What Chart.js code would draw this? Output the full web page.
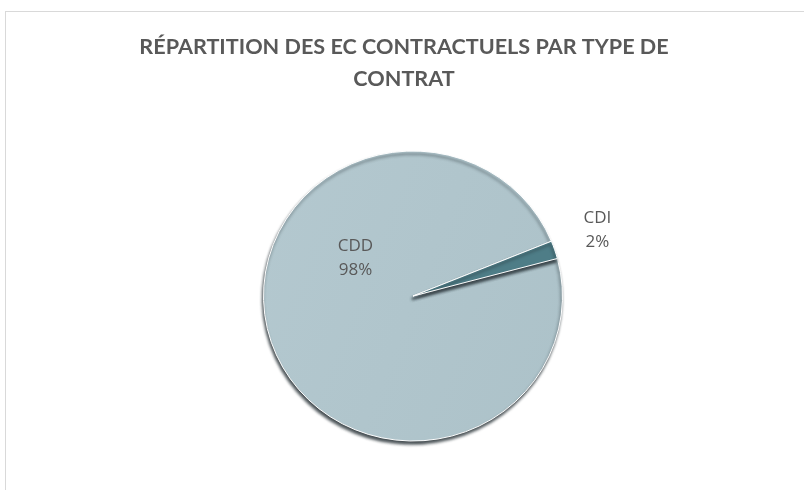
<!DOCTYPE html>
<html>
<head>
<meta charset="utf-8">
<script src="https://cdn.jsdelivr.net/npm/chart.js@4"></script>
<style>
  html, body { margin: 0; padding: 0; background: #fff; overflow: hidden; }
  #frame { position: absolute; left: 5px; top: 11px; width: 900px; height: 600px; border: 1px solid #d9d9d9; }
  #wrap { position: absolute; left: 0; top: 0; width: 804px; height: 490px; }
</style>
</head>
<body>
<div id="frame"></div>
<div id="wrap"><canvas id="pie-chart" width="804" height="490"></canvas></div>
<script>
// Données du graphique
const categories = ['CDD', 'CDI'];
const shares = [98, 2];
const titleLines = ['RÉPARTITION DES EC CONTRACTUELS PAR TYPE DE', 'CONTRAT'];

const textColor = '#595959';

// Légère inclinaison + ombre sous le camembert (effet Excel 3D)
const shadowPlugin = {
  id: 'pieShadow',
  beforeDatasetsDraw(chart) {
    const ctx = chart.ctx;
    const meta = chart.getDatasetMeta(0);
    const cy = meta.data.length ? meta.data[0].y : 0;
    ctx.save();
    ctx.translate(0, cy);
    ctx.scale(1, 0.97);
    ctx.translate(0, -cy);
    ctx.shadowColor = 'rgba(35, 45, 50, 0.85)';
    ctx.shadowBlur = 3;
    ctx.shadowOffsetX = -1;
    ctx.shadowOffsetY = 3;
  },
  afterDatasetsDraw(chart) {
    chart.ctx.restore();
  }
};

// Titre sur deux lignes, centré sur la page
const titlePlugin = {
  id: 'pageTitle',
  afterDraw(chart) {
    const ctx = chart.ctx;
    ctx.save();
    ctx.font = 'bold 21.6px Lato, "Open Sans", sans-serif';
    ctx.fillStyle = textColor;
    ctx.textAlign = 'center';
    ctx.textBaseline = 'middle';
    titleLines.forEach((line, i) => {
      ctx.fillText(line, chart.width / 2 + 2, 47 + i * 32);
    });
    ctx.restore();
  }
};

// Étiquettes "catégorie + pourcentage"
const labelPlugin = {
  id: 'sliceLabels',
  afterDatasetsDraw(chart) {
    const ctx = chart.ctx;
    const meta = chart.getDatasetMeta(0);
    const total = shares.reduce((a, b) => a + b, 0);
    ctx.save();
    ctx.font = '17px "Open Sans", sans-serif';
    ctx.fillStyle = textColor;
    ctx.textAlign = 'center';
    ctx.textBaseline = 'middle';
    meta.data.forEach((arc, i) => {
      const { x, y, outerRadius, startAngle, endAngle } = arc.getProps(['x', 'y', 'outerRadius', 'startAngle', 'endAngle'], true);
      let angle, dist;
      if (i === 0) {
        // étiquette placée dans le grand secteur, en haut à gauche
        angle = Math.PI + 0.58;
        dist = outerRadius * 0.46;
      } else {
        angle = (startAngle + endAngle) / 2 - 0.02;
        dist = outerRadius * 1.31;
      }
      const lx = x + Math.cos(angle) * dist;
      const ly = y + Math.sin(angle) * dist;
      const pct = Math.round(shares[i] / total * 100) + '%';
      ctx.fillText(categories[i], lx, ly - 12);
      ctx.fillText(pct, lx, ly + 12);
    });
    ctx.restore();
  }
};

function sliceColor(context) {
  if (context.dataIndex !== 0) return '#4e7d87';
  const area = context.chart.chartArea;
  if (!area) return '#b0c5cc';
  const g = context.chart.ctx.createLinearGradient(area.left, area.top, area.right, area.bottom);
  g.addColorStop(0, '#b8ccd3');
  g.addColorStop(1, '#a8bec5');
  return g;
}

new Chart(document.getElementById('pie-chart'), {
  type: 'pie',
  data: {
    labels: categories,
    datasets: [{
      data: shares,
      backgroundColor: sliceColor,
      borderColor: '#ffffff',
      borderWidth: 1
    }]
  },
  options: {
    responsive: false,
    animation: false,
    rotation: 75,
    layout: { padding: { left: 22, right: 0, top: 146, bottom: 44 } },
    plugins: {
      legend: { display: false },
      tooltip: { enabled: false },
      title: { display: false }
    }
  },
  plugins: [shadowPlugin, labelPlugin, titlePlugin]
});
</script>
</body>
</html>
